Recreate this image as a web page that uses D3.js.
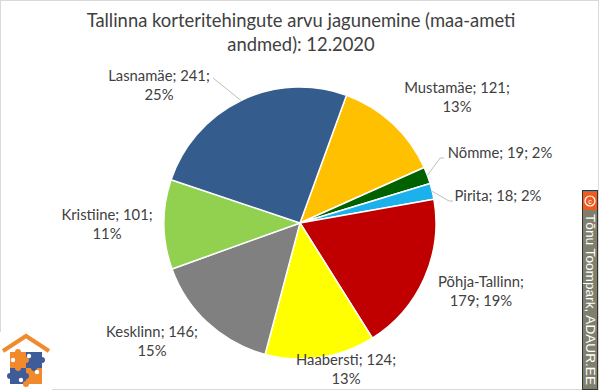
<!DOCTYPE html>
<html><head><meta charset="utf-8">
<script src="https://cdn.jsdelivr.net/npm/d3@7/dist/d3.min.js"></script>
<style>body{margin:0;background:#fff}svg{display:block}</style>
</head><body><svg id="c" width="600" height="392"></svg>
<script>
const titleLines = ["Tallinna korteritehingute arvu jagunemine (maa-ameti", "andmed): 12.2020"];
const categories = ["Mustamäe","Nõmme","Pirita","Põhja-Tallinn","Haabersti","Kesklinn","Kristiine","Lasnamäe"];
const values = [121,19,18,179,124,146,101,241];
const colors = ["#FFC000","#006100","#1CB0EC","#C00000","#FFFF00","#808080","#92D050","#345D8E"];
// label layout: [x, y of first baseline] and line breaks
const labelPos = [[457,93],[500,158],[498,201],[481,287],[346,365],[152,337],[107,220],[159,81]];
const labelBreak = [2,3,3,1,2,2,2,2]; // number of "; "-parts on first line
const leaders = [false,[444,158],[453,201],false,false,false,false,[213,78]];

const svg = d3.select("#c");
const W=600,H=392, cx=300, cy=223, R=136;
svg.append("rect").attr("x",0.5).attr("y",0.5).attr("width",598).attr("height",389).attr("fill","#fff").attr("stroke","#D9D9D9");

const font = "Lato, 'Open Sans', sans-serif";
svg.append("g").selectAll("text").data(titleLines).join("text")
  .attr("x",301).attr("y",(d,i)=>27+i*24).attr("text-anchor","middle")
  .attr("font-family",font).attr("font-weight",400).attr("font-size",18.4).attr("fill","#404040").text(d=>d);

const total = d3.sum(values);
const start = 20*Math.PI/180;
const pie = d3.pie().sort(null).value(d=>d).startAngle(start).endAngle(start+2*Math.PI);
const arcs = pie(values);
const arc = d3.arc().innerRadius(0).outerRadius(R);
const g = svg.append("g").attr("transform",`translate(${cx},${cy})`);
g.selectAll("path").data(arcs).join("path").attr("d",arc)
  .attr("fill",(d,i)=>colors[i]).attr("stroke","#fff").attr("stroke-width",1.5).attr("stroke-linejoin","round");

// leader lines
arcs.forEach((a,i)=>{
  if(!leaders[i]) return;
  const m=(a.startAngle+a.endAngle)/2;
  const px=cx+R*Math.sin(m), py=cy-R*Math.cos(m);
  const [lx,ly]=leaders[i];
  const pts = i===7 ? [[lx,ly],[px,py]] : [[lx,ly],[lx-4,ly],[px,py]];
  svg.append("path").attr("d",d3.line()(pts)).attr("fill","none").attr("stroke","#BFBFBF").attr("stroke-width",1);
});

// labels
arcs.forEach((a,i)=>{
  const pct = Math.round(values[i]/total*100)+"%";
  const parts=[categories[i], String(values[i]), pct];
  const n=labelBreak[i];
  const l1 = parts.slice(0,n).join("; ")+(n<3?";":"");
  const l2 = parts.slice(n).join("; ");
  const t = svg.append("text").attr("text-anchor","middle").attr("font-family",font).attr("font-size",14.8).attr("fill","#404040");
  t.append("tspan").attr("x",labelPos[i][0]).attr("y",labelPos[i][1]).text(l1);
  if(l2) t.append("tspan").attr("x",labelPos[i][0]).attr("y",labelPos[i][1]+18.5).text(l2);
});

// watermark
const wm = svg.append("g");
wm.append("rect").attr("x",582.5).attr("y",190.5).attr("width",15).attr("height",199).attr("fill","#7F7F6E").attr("stroke","#333").attr("stroke-width",1);
wm.append("rect").attr("x",583).attr("y",192).attr("width",14).attr("height",18).attr("fill","#F05A1E");
wm.append("circle").attr("cx",590).attr("cy",201).attr("r",5).attr("fill","none").attr("stroke","#fff").attr("stroke-width",1.2);
wm.append("text").attr("x",590).attr("y",203.5).attr("text-anchor","middle").attr("font-family","Liberation Sans, Arial").attr("font-size",7).attr("fill","#fff").text("c");
wm.append("text").attr("transform","translate(585.5,214) rotate(90)").attr("font-family","Liberation Sans, Arial, sans-serif")
  .attr("font-size",13).attr("fill","#fff").attr("textLength",171).attr("lengthAdjust","spacingAndGlyphs").text("Tõnu Toompark, ADAUR.EE");

// logo
const lg = svg.append("g");
lg.append("rect").attr("x",0).attr("y",332).attr("width",52).attr("height",60).attr("fill","#fff");
lg.append("path").attr("d","M3,351 L26,336 L49,351").attr("fill","none").attr("stroke","#F08A2C").attr("stroke-width",4).attr("stroke-linejoin","miter");
const O="#F08A2C", B="#3E5C9A";
[[10,352,O],[26,352,B],[10,368,B],[26,368,O]].forEach(([x,y,c])=>lg.append("rect").attr("x",x).attr("y",y).attr("width",16).attr("height",16).attr("fill",c));
[[26,360,O],[18,368,O],[34,368,B],[26,376,B],[10,376,B],[26,384,O],[42,360,B],[18,352,O]].forEach(([x,y,c])=>lg.append("circle").attr("cx",x).attr("cy",y).attr("r",3).attr("fill",c));
[[13,360],[37,372],[21,380],[29,356]].forEach(([x,y])=>lg.append("circle").attr("cx",x).attr("cy",y).attr("r",2.2).attr("fill","#fff"));
</script></body></html>
